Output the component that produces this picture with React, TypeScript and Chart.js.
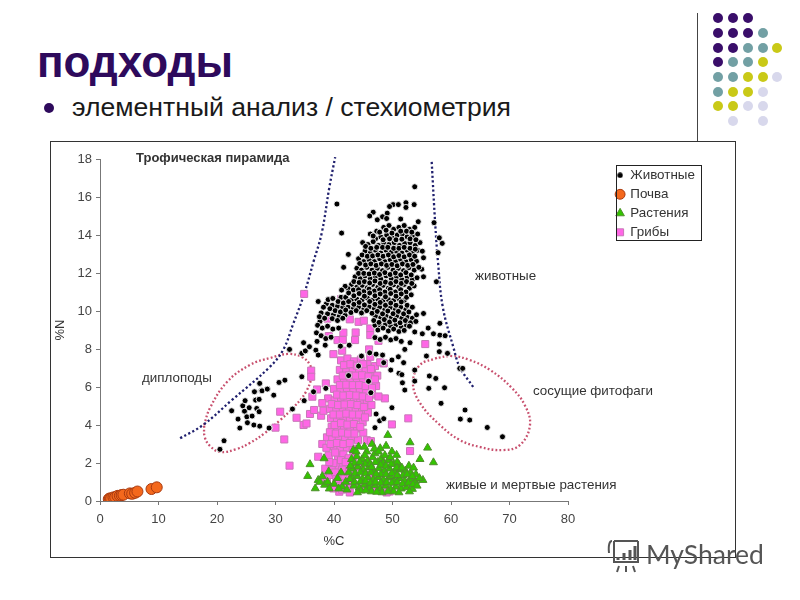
import React, { useEffect, useRef } from "react";
import { Chart, registerables } from "chart.js";

Chart.register(...registerables);

type P = [number, number];

const seriesNames = ["Животные", "Почва", "Растения", "Грибы"];
const xTicks = [0, 10, 20, 30, 40, 50, 60, 70, 80];
const yTicks = [0, 2, 4, 6, 8, 10, 12, 14, 16, 18];

const animalsTop: P[] = [
  [53.8,16.54],[40.5,15.63],[41.3,14.1],[50.1,15.6],[51,15.6],[52.3,15.7],[52.3,15.45],[53.7,15.6],[49.5,15.5],[49.1,15.15],
  [46.7,15.2],[46.1,15],[47.4,14.8],[48.3,14.96],[49,14.87],[51.4,14.84],[54.4,14.7],[57.1,14.65],[58,13.85],[58.5,13.56],
  [57.8,13.07],[57.5,11.54],[55.3,12.8],[55,12.2],[55.3,11.8],[42.45,12.98],[41.65,12.3],
];
const animals14: P[] = [
  [47.3,14.2],[48.5,14.4],[49.4,14.5],[50.2,14.3],[51.1,14.4],[52,14.5],[52.9,14.3],[53.8,14.4],[48,13.9],[49,14],
  [50,13.85],[50.8,14],[51.7,14.05],[52.5,13.9],[53.4,13.95],[54.3,14.05],[46.2,14.05],[47.1,13.8],
];
const animals13: P[] = [
  [44.9,13.6],[45.8,13.5],[46.7,13.65],[47.6,13.45],[48.5,13.6],[49.4,13.5],[50.3,13.6],[51.2,13.45],[52.1,13.55],[53,13.6],
  [53.9,13.45],[54.7,13.6],[45.3,13.15],[46.2,13.05],[47.1,13.2],[48,13.05],[48.9,13.2],[49.8,13.1],[50.7,13.15],[51.6,13.05],
  [52.5,13.2],[53.4,13.05],[54.3,13.2],[55.1,13.15],
];
const animals12: P[] = [
  [44.2,12.75],[45.1,12.6],[46,12.7],[46.9,12.6],[47.8,12.75],[48.7,12.6],[49.6,12.7],[50.5,12.6],[51.4,12.72],[52.3,12.6],
  [53.2,12.7],[54.1,12.62],[43.9,12.25],[44.7,12.15],[45.6,12.3],[46.5,12.15],[47.4,12.25],[48.3,12.12],[49.2,12.3],[50.1,12.15],
  [51,12.25],[51.9,12.12],[52.8,12.28],[53.7,12.15],[54.5,12.3],[43.6,11.8],[44.5,11.7],[45.3,11.85],[46.2,11.7],[47.1,11.8],
  [48,11.68],[48.9,11.85],[49.8,11.7],[50.7,11.8],[51.6,11.65],[52.5,11.8],[53.4,11.65],[54.2,11.75],[43,11.4],[43.9,11.25],
  [44.8,11.35],[45.7,11.22],[46.6,11.4],[47.5,11.25],[48.4,11.35],[49.3,11.2],[50.2,11.38],[51.1,11.25],[52,11.4],[52.9,11.2],
  [53.7,11.32],
];
const animalsFill: P[] = [
  [47.8,14.15],[48.9,14.25],[49.9,14.1],[51.4,14.2],[52.4,14.2],[53.3,14.15],[46.7,13.95],[48.4,13.75],[49.5,13.8],[50.6,13.75],
  [51.6,13.78],[53,13.8],[54,13.75],[45.4,13.4],[46.3,13.3],[47.3,13.35],[48.3,13.35],[49.2,13.35],[50.2,13.3],[51.1,13.3],
  [52,13.35],[53,13.3],[53.9,13.25],[44.8,12.95],[45.7,12.88],[46.6,12.9],[47.5,12.95],[48.4,12.88],[49.3,12.95],[50.2,12.85],
  [51.1,12.92],[52,12.85],[52.9,12.95],[53.8,12.88],[44.4,12.5],[45.4,12.42],[46.3,12.48],[47.2,12.4],[48.1,12.48],[49,12.4],
  [49.9,12.45],[50.8,12.38],[51.7,12.48],[52.6,12.4],[53.5,12.45],[44.2,11.98],[45.1,11.98],[46,11.95],[46.9,12],[47.8,11.92],
  [48.7,12.02],[49.6,11.92],[50.5,12],[51.4,11.9],[52.3,12.02],[53.2,11.9],[43.4,11.55],[44.3,11.5],[45.2,11.55],[46.1,11.48],
  [47,11.58],[47.9,11.45],[48.8,11.52],[49.7,11.45],[50.6,11.55],[51.5,11.45],[52.4,11.55],[53.3,11.45],[42.4,11.18],[43.3,11.1],
  [44.2,11.12],[45.1,11.02],[46,11.15],[46.9,11.05],[47.8,11.12],[48.7,11],[49.6,11.14],[50.5,11],[51.4,11.12],[52.3,11],
  [41.2,10.72],[42,10.72],[43,10.58],[43.9,10.62],[44.8,10.58],[45.7,10.68],[46.6,10.58],[47.5,10.62],[48.4,10.55],[49.3,10.6],
  [50.2,10.55],[51.1,10.65],[52,10.55],[38.7,10.38],[39.7,10.3],[40.6,10.25],[41.5,10.2],[42.4,10.2],[43.3,10.12],[44.2,10.2],
  [45.1,10.1],[46,10.22],[46.9,10.12],[47.8,10.2],[48.7,10.08],[49.6,10.18],[50.5,10.08],[51.4,10.2],[52.3,10.08],[37.8,9.9],
  [38.9,9.85],[39.9,9.8],[40.9,9.72],[41.9,9.78],[47.1,9.72],[48,9.65],[48.9,9.75],[49.8,9.65],[50.7,9.72],[51.6,9.62],
  [52.5,9.7],[53.4,9.62],[47,9.25],[47.9,9.22],[48.8,9.3],[49.7,9.2],[50.6,9.28],[51.5,9.15],[52.4,9.25],[37.6,9.45],
];
const animals10: P[] = [
  [41.9,11.3],[41.3,11.1],[42.5,10.95],[43.4,10.8],[44.3,10.92],[45.2,10.78],[46.1,10.95],[47,10.8],[47.9,10.9],[48.8,10.75],
  [49.7,10.92],[50.6,10.78],[51.5,10.9],[52.4,10.72],[53.2,10.85],[39,10.6],[39.8,10.66],[37.3,10.5],[40.7,10.5],[41.6,10.42],
  [42.5,10.5],[43.4,10.35],[44.3,10.45],[45.2,10.32],[46.1,10.5],[47,10.35],[47.9,10.45],[48.8,10.3],[49.7,10.42],[50.6,10.3],
  [51.5,10.48],[52.5,10.3],[38.2,10.2],[39.3,10.12],[40.2,10.02],[41.1,9.95],[42,10.05],[42.9,9.92],[43.8,10.02],[44.7,9.9],
  [45.6,10.02],[46.5,9.88],[47.4,9.98],[48.3,9.85],[49.2,10],[50.1,9.86],[51,9.98],[51.9,9.85],[52.8,9.95],[53.4,10.2],
  [54.1,9.8],[55.3,9.87],[37.5,9.7],[38.4,9.62],[39.7,9.6],[40.6,9.5],[41.5,9.62],[46.8,9.5],[47.7,9.4],[48.6,9.55],
  [49.5,9.42],[50.4,9.52],[51.3,9.38],[52.2,9.5],[53.1,9.38],[54,9.45],
];
const animals8: P[] = [
  [37.2,9.25],[38,9.1],[38.9,9.2],[39.8,9.05],[40.8,9.1],[47.5,9],[48.4,9.1],[49.3,8.95],[50.2,9.05],[51.1,8.92],
  [52,8.98],[52.9,9.2],[53.8,8.9],[58.1,9.35],[56.1,9.1],[57,8.8],[58.1,8.73],[59,8.7],[55.1,8.8],[37,8.85],
  [37.8,8.7],[38.6,8.55],[39.5,8.62],[47,8.6],[47.9,8.5],[48.8,8.62],[49.7,8.48],[50.6,8.55],[51.5,8.4],[37.1,8.4],
  [32.4,7.98],[34.8,8.33],[34.5,7.77],[35.1,7.9],[35.8,8.12],[36.9,7.94],[37.3,7.68],[38.5,8.2],[42.6,8.2],[41.1,8.15],
  [53,8.33],[52.1,7.98],[51.9,7.28],[51,7.59],[49.9,7.42],[48.5,7.28],[48.3,7.68],[47.2,7.73],[44.7,7.63],[46.1,7.8],
  [55.8,7.63],[58,8.26],[58,7.86],[59.4,7.77],[61.5,6.98],[62,6.98],[53.8,6.89],[49.7,6.89],[51.1,6.72],[51.6,6.65],
];
const animalsLow: P[] = [
  [34.5,6.54],[31.6,6.36],[30.6,6.24],[28.6,5.89],[27.6,5.8],[29.7,5.57],[34.9,5.28],[32.9,4.84],[29,3.86],[38.6,5.93],
  [36.5,5.75],[47,3.86],[47.2,4.58],[47.8,4.22],[48.5,4.33],[49.9,4.91],[52.1,5.84],[51.7,6.22],[53.8,6.31],[56.3,6.58],
  [57.4,6.45],[56.2,5.93],[58.9,5.96],[58.3,5.14],[62.4,4.79],[61.6,4.31],[63.2,4.26],[66.2,3.87],[68.8,3.38],[20.5,2.72],
  [21.2,3.17],[22.5,4.75],[23.6,4.31],[23.9,3.84],[24.7,4.73],[24.4,5.01],[24.8,5.28],[25.1,4.43],[25.5,4.91],[25.2,4.12],
  [26,4.47],[26.3,4],[27.3,3.94],[26.8,4.87],[27.2,4.7],[26.6,5.31],[27.2,5.35],[26.4,5.75],[27.3,6.19],[27.7,5.8],
  [28.6,5.89],[28.9,3.84],[42.5,6.6],[44.2,7.1],[45.9,6.3],[46.3,5.7],
];

const soil: P[] = [
  [1.5,0.1],[1.7,0.14],[1.9,0.12],[2.3,0.19],[2.6,0.2],[3,0.27],[3.4,0.28],[3.7,0.31],[4,0.33],[5.1,0.4],
  [5.5,0.38],[6,0.43],[6.4,0.5],[8.8,0.63],[9.7,0.72],
];

const plantsOuter: P[] = [
  [49.2,3.47],[53,3.08],[56,2.8],[54.7,2.2],[57,2.03],[35.9,1.93],[35.5,1.31],[38.3,2.24],[55.2,1.1],[53.4,0.63],
  [37.3,1.1],[36.8,0.66],[37.6,1.0],[38,1.3],[38.4,0.85],[39.1,1.55],[40,0.9],[40.6,1.2],[41.4,0.75],[42,1.0],
  [47.9,2.77],[48.9,2.9],[49.9,2.6],[50.7,2.42],[44.2,2.86],[43.3,2.68],[45.6,2.6],[46.5,3],[48.1,2.25],
];
const plantsDense: P[] = [
  [43,2.2],[43.9,2.35],[44.8,2.2],[45.7,2.1],[46.6,2.3],[47.5,2.05],[48.4,2],[49.3,2.15],[50.2,1.95],[51.1,1.9],
  [43.2,1.7],[44.1,1.8],[45,1.65],[45.9,1.75],[46.8,1.6],[47.7,1.72],[48.6,1.58],[49.5,1.7],[50.4,1.55],[51.3,1.65],
  [52.2,1.6],[53.1,1.5],[54,1.4],[43.1,1.2],[44,1.3],[44.9,1.15],[45.8,1.25],[46.7,1.12],[47.6,1.25],[48.5,1.1],
  [49.4,1.22],[50.3,1.08],[51.2,1.2],[52.1,1.05],[53,1.15],[53.9,1.05],[54.6,1.2],[43.4,0.8],[44.3,0.7],[45.2,0.85],
  [46.1,0.68],[47,0.82],[47.9,0.65],[48.8,0.8],[49.7,0.62],[50.6,0.75],[51.5,0.65],[52.4,0.72],[44.6,0.55],[46.4,0.5],
  [48.2,0.45],[50.2,0.5],[43.8,2.6],[47,2.5],[49.6,1.3],[51.8,1.35],[52.8,1.85],[48,1.4],[45.3,1.95],[50.8,2.05],
  [53.6,1.75],[42.5,1.5],[42.2,0.6],[39.2,0.65],
];
const plantsFill: P[] = [
  [43.5,2.0],[44.4,2.05],[45.3,2.4],[46.2,1.95],[47.1,2.05],[48,1.9],[48.9,1.85],[49.8,1.95],[50.7,1.75],[51.6,1.75],
  [52.5,1.4],[53.4,1.3],[43.6,1.45],[44.5,1.5],[45.4,1.45],[46.3,1.5],[47.2,1.42],[48.9,1.4],[49.9,1.45],[50.8,1.35],
  [43.5,1.0],[44.5,1.02],[45.4,1.05],[46.2,0.95],[47.1,1],[48,0.95],[49,0.98],[49.9,0.95],[50.8,0.98],[51.7,0.9],
  [52.7,0.95],[53.5,0.88],[44,0.45],[45.4,0.55],[47.3,0.48],[49.2,0.5],[51.1,0.45],[52.9,0.5],[54.2,0.8],[46.9,2.75],
  [45.2,2.85],[42.8,1.85],[42.7,1.15],[41.2,1.5],[40.8,0.65],[38.9,1.0],[46.4,1.78],[48.7,2.4],[47.6,2.6],[49.6,2.3],
];

const fungiOuter: P[] = [
  [34.9,10.9],[41.2,10.63],[44.9,10.05],[38.9,9.6],[42.7,9.56],[44.2,9.43],[45.1,9.49],[39.1,8.68],[41.6,8.86],[43.7,8.87],
  [46.2,9.08],[46.2,8.73],[40.6,8.47],[41.5,8.47],[43.6,8.47],[47.6,8.43],[55.6,8.26],[36.1,6.86],[36.1,6.54],[38.6,6.19],
  [37.1,5.87],[36.3,5.49],[30.8,4.7],[33.6,4.38],[35.9,4.58],[36.6,4.79],[37.8,4.49],[34.8,4],[35.3,4.08],[30,3.86],
  [31.5,3.24],[32.4,1.86],[48.7,5.4],[49.9,4.03],[52.7,4.35],[53,2.63],[37.3,2.33],[39.9,7.73],[41.4,7.91],[46,7.98],
  [46.2,7.59],[48.5,7.24],[42.7,0.45],[45,0.66],[46,0.75],[47.2,0.58],[49,0.45],[49.5,0.5],[46.2,1.36],[44.2,1.8],
  [43.3,2.33],[40.9,0.49],[39.9,0.66],[38.5,1.28],[39.3,1.37],
];
const fungiColumn: P[] = [
  [41.2,7.4],[42.3,7.5],[43.4,7.35],[44.6,7.45],[45.7,7.2],[47,7.1],[47.9,7.3],[41,6.9],[42.1,6.8],[43.2,6.95],
  [44.3,6.8],[45.4,6.9],[46.5,6.7],[47.4,6.6],[40.6,6.4],[41.7,6.3],[42.8,6.45],[43.9,6.3],[45,6.4],[46.1,6.2],
  [47.2,6.05],[40,5.9],[41.1,5.8],[42.2,5.95],[43.3,5.8],[44.4,5.9],[45.5,5.7],[46.5,5.6],[47.6,5.5],[39,5.4],
  [40.1,5.3],[41.2,5.45],[42.3,5.3],[43.4,5.42],[44.5,5.25],[45.6,5.2],[46.4,5.05],[38,5.15],[38.2,4.75],[39.3,4.85],
  [40.4,4.8],[41.5,4.9],[42.6,4.78],[43.7,4.85],[44.8,4.7],[45.8,4.65],[39.5,4.35],[40.5,4.2],[41.6,4.4],[42.7,4.25],
  [43.8,4.35],[44.9,4.15],[39.6,3.9],[40.6,3.75],[41.7,3.9],[42.8,3.78],[43.9,3.82],[45,3.6],[38.8,3.35],[39.7,3.25],
  [40.8,3.4],[41.9,3.28],[43,3.35],[44.1,3.2],[45.6,3.2],[46.3,3.15],[38,3],[38.7,2.8],[40,2.85],[41.1,2.7],
  [42.2,2.8],[43.2,2.75],[39.1,2.4],[40.7,2.3],[41.6,2.45],[42.5,2.25],[40.6,1.85],[41.5,1.95],[42.4,1.75],[38.5,1.7],
  [39.6,1.65],[40.9,1.4],[41.8,1.25],[42.7,1.35],[41,0.9],[41.9,0.95],[42.8,0.9],
];
const fungiFill: P[] = [
  [41.7,7.15],[42.8,7.2],[43.9,7.12],[45,7.2],[46.3,6.95],[41.5,6.6],[42.6,6.62],[43.7,6.6],[44.8,6.62],[45.9,6.55],
  [47,6.4],[41,6.1],[42.1,6.12],[43.2,6.1],[44.3,6.1],[45.4,6.05],[46.5,5.95],[40.5,5.6],[41.6,5.55],[42.7,5.58],
  [43.8,5.55],[44.9,5.5],[46,5.42],[39.6,5.1],[40.7,5.05],[41.8,5.08],[42.9,5.1],[44,5.05],[45.1,4.95],[39.9,4.55],
  [41,4.55],[42.1,4.6],[43.2,4.55],[44.3,4.55],[45.3,4.4],[40.1,4.0],[41.2,4.1],[42.3,4.02],[43.4,4.05],[44.5,3.9],
  [39.3,3.62],[40.3,3.55],[41.4,3.6],[42.4,3.55],[43.5,3.55],[39.4,3.0],[40.5,3.05],[41.6,3],[42.7,3.05],[40.2,2.55],
  [41.2,2.15],[42,2.05],[39.9,2],[40.2,1.5],[41.4,1.65],[40.4,1.15],[41.4,0.6],[42.3,0.65],[39.2,2.05],[38.8,1.0],
];

const curveLeftC = [13.7, 17.6, 22.5, 29, 31.3, 33, 34.9, 36.5, 37.9, 39.2, 40.2];
const curveLeftN = [3.3, 4.0, 5.3, 7.05, 7.95, 9.3, 10.9, 12.6, 14.1, 16.5, 18.1];
const curveRightC = [56.7, 57.3, 57.8, 58.6, 60.4, 61.5, 63.8];
const curveRightN = [17.85, 14.6, 12.5, 10.2, 8.1, 7.05, 6.0];
const ovalLeftC = [17.8, 18.8, 21.7, 25.6, 29.1, 32.1, 34.5, 35.9, 36.2, 35.2, 33, 30.8, 28.2, 25.6, 23.4, 20.5, 18.8, 17.9, 17.8];
const ovalLeftN = [4.0, 4.9, 6.26, 7.16, 7.53, 7.74, 7.58, 7.16, 6.63, 5.74, 4.9, 4.26, 3.58, 3.05, 2.74, 2.58, 2.9, 3.37, 4.0];
const ovalRightC = [57.6, 54.7, 53.5, 54.7, 58.1, 61.5, 65, 68.9, 71.8, 73.5, 72.6, 70.4, 66.7, 63.2, 60.2, 57.6];
const ovalRightN = [7.53, 7.16, 6.21, 5.16, 4.0, 3.21, 2.84, 2.68, 2.95, 4.0, 5.05, 5.95, 6.89, 7.42, 7.63, 7.53];

const slideDotRows: [number, string[]][] = [
  [18, ["p", "p", "p"]],
  [33, ["p", "p", "p", "t"]],
  [48, ["p", "p", "t", "t", "y"]],
  [62, ["p", "t", "t", "y"]],
  [77, ["t", "t", "y", "y", "l"]],
  [92, ["t", "y", "y", "l"]],
  [106, ["y", "y", "l", "l"]],
];
const slideDotColors: Record<string, string> = { p: "#3a0e6a", t: "#72a0a4", y: "#c9c917", l: "#d8d8ec" };
const slideDotColumns = [718, 733, 748, 763, 777];

const toXY = (pairs: P[]) => pairs.map(([x, y]) => ({ x, y }));
const zipXY = (xs: number[], ys: number[]) => xs.map((x, i) => ({ x, y: ys[i] }));

const FONT = "'Liberation Sans', Arial, sans-serif";

const legendPlugin = {
  id: "movedLegend",
  beforeDraw(chart: any) {
    const lg = chart.legend;
    lg.left = 560; lg.right = 655; lg.top = 21; lg.bottom = 110;
  },
  afterDraw(chart: any) {
    const c = chart.ctx;
    c.save();
    c.strokeStyle = "#222";
    c.lineWidth = 1;
    c.strokeRect(565.5, 23.5, 85, 75);
    c.restore();
  },
};

const makeSmallDot = () => {
  const cv = document.createElement("canvas");
  cv.width = 6; cv.height = 6;
  const c = cv.getContext("2d")!;
  c.fillStyle = "#000";
  c.beginPath(); c.arc(3, 3, 2.7, 0, Math.PI * 2); c.fill();
  return cv;
};

const labelStyle = (left: number, top: number, extra: any = {}): React.CSSProperties => ({
  position: "absolute", left, top, fontFamily: FONT, fontSize: 13.4, lineHeight: "14px",
  color: "#333", whiteSpace: "nowrap", ...extra,
});

export default function App() {
  const ref = useRef<HTMLCanvasElement>(null);
  useEffect(() => {
    const dashed = (data: any[], color: string, dash: number[]) => ({
      data, showLine: true, pointRadius: 0, borderColor: color, backgroundColor: color,
      borderWidth: 2.3, borderDash: dash, tension: 0.4, clip: false as any,
    });
    const smallDot = makeSmallDot();
    const chart = new Chart(ref.current!, {
      type: "scatter",
      data: {
        datasets: [
          {
            label: seriesNames[0],
            data: toXY([...animalsTop, ...animals14, ...animals13, ...animals12, ...animalsFill, ...animals10, ...animals8, ...animalsLow]),
            pointStyle: "circle", pointRadius: 3, pointBackgroundColor: "#000", backgroundColor: "#000",
            pointBorderColor: "#f4f4f4", borderColor: "#000", pointBorderWidth: 0.9,
          },
          {
            label: seriesNames[1], data: toXY(soil), pointStyle: "circle", pointRadius: 5.5,
            pointBackgroundColor: "#f4681c", backgroundColor: "#f4681c", pointBorderColor: "#a83a10", borderColor: "#a83a10", pointBorderWidth: 1,
          },
          {
            label: seriesNames[2], data: toXY([...plantsOuter, ...plantsDense, ...plantsFill]), pointStyle: "triangle", pointRadius: 4.6,
            pointBackgroundColor: "#33c400", backgroundColor: "#33c400", pointBorderColor: "#4f8f2c", borderColor: "#4f8f2c", pointBorderWidth: 1,
          },
          {
            label: seriesNames[3], data: toXY([...fungiOuter, ...fungiColumn, ...fungiFill]), pointStyle: "rect", pointRadius: 5,
            pointBackgroundColor: "#ff66e6", backgroundColor: "#ff66e6", pointBorderColor: "#c878b8", borderColor: "#c878b8", pointBorderWidth: 1,
          },
          dashed(zipXY(curveLeftC, curveLeftN), "#20206e", [2.2, 2.4]),
          dashed(zipXY(curveRightC, curveRightN), "#20206e", [2.2, 2.4]),
          dashed(zipXY(ovalLeftC, ovalLeftN), "#c8506e", [1.8, 2.2]),
          dashed(zipXY(ovalRightC, ovalRightN), "#c8506e", [1.8, 2.2]),
        ] as any,
      },
      options: {
        animation: false,
        responsive: false,
        layout: { padding: { left: 0, right: 167, top: 17, bottom: 8 } },
        plugins: {
          title: { display: false },
          tooltip: { enabled: false },
          legend: {
            display: true,
            position: "chartArea" as any,
            align: "start",
            labels: {
              usePointStyle: true, boxWidth: 7, boxHeight: 7, padding: 5.6, color: "#333",
              font: { family: FONT, size: 13.4 },
              generateLabels: (c: any) => {
                const items = (Chart.defaults.plugins.legend.labels as any).generateLabels(c).filter((it: any) => it.datasetIndex < 4);
                items[0].pointStyle = smallDot;
                return items;
              },
            },
          },
        },
        scales: {
          x: {
            type: "linear", min: 0, max: 80,
            afterBuildTicks: (s: any) => { s.ticks = xTicks.map((value) => ({ value })); },
            afterFit: (s: any) => { s.height = 48; },
            grid: { drawOnChartArea: false, color: "#777", tickLength: 4 },
            border: { color: "#777" },
            ticks: { color: "#444", font: { family: FONT, size: 13 }, padding: 7 },
            title: { display: true, text: "%C", color: "#333", font: { family: FONT, size: 13 }, padding: { top: 1, bottom: 0 } },
          },
          y: {
            type: "linear", min: 0, max: 18,
            afterBuildTicks: (s: any) => { s.ticks = yTicks.map((value) => ({ value })); },
            afterFit: (s: any) => { s.width = 49; },
            grid: { drawOnChartArea: false, color: "#777", tickLength: 4 },
            border: { color: "#777" },
            ticks: { color: "#444", font: { family: FONT, size: 13 }, padding: 4 },
            title: { display: true, text: "%N", color: "#333", font: { family: FONT, size: 13 }, padding: { top: 2, bottom: 0 } },
          },
        },
      },
      plugins: [legendPlugin as any],
    });
    return () => chart.destroy();
  }, []);

  return (
    <div style={{ position: "fixed", left: 0, top: 0, width: 800, height: 600, background: "#fff", overflow: "hidden" }}>
      <div style={{ position: "absolute", left: 37, top: 37, fontFamily: FONT, fontWeight: 700, fontSize: 44, lineHeight: "50px", color: "#2e0a5c" }}>подходы</div>
      <div style={{ position: "absolute", left: 44, top: 103, width: 10, height: 10, borderRadius: 5, background: "#2e0a5c" }} />
      <div style={{ position: "absolute", left: 72, top: 92, fontFamily: FONT, fontSize: 26.6, lineHeight: "30px", color: "#1a1a1a", whiteSpace: "nowrap" }}>элементный анализ / стехиометрия</div>
      <div style={{ position: "absolute", left: 697, top: 13, width: 1, height: 128, background: "#444" }} />
      <svg width={800} height={140} style={{ position: "absolute", left: 0, top: 0 }}>
        {slideDotRows.map(([y, row]) => row.map((c, i) => (
          <circle key={y + "-" + i} cx={slideDotColumns[i]} cy={y} r={5} fill={slideDotColors[c]} />
        )))}
        <circle cx={733} cy={121} r={5} fill={slideDotColors.l} />
        <circle cx={763} cy={121} r={5} fill={slideDotColors.l} />
      </svg>
      <div style={{ position: "absolute", left: 50, top: 141, width: 684, height: 415, border: "1px solid #333" }}>
        <canvas ref={ref} width={684} height={415} style={{ display: "block", width: 684, height: 415 }} />
      </div>
      <div style={labelStyle(136, 151, { fontWeight: 700, fontSize: 13 })}>Трофическая пирамида</div>
      <div style={labelStyle(475, 269)}>животные</div>
      <div style={labelStyle(142, 371)}>диплоподы</div>
      <div style={labelStyle(533, 384)}>сосущие фитофаги</div>
      <div style={labelStyle(446, 478)}>живые и мертвые растения</div>
      <svg width={40} height={40} viewBox="0 0 40 40" style={{ position: "absolute", left: 606, top: 536 }} fill="none" stroke="#555" strokeWidth={2}>
        <path d="M8 5h24M6 5c-2 0-4 3-3 12M8 5v14M8 8v18h24V5" />
        <path d="M12 24v-3M18 24v-7M24 24v-10M29 24v-14" strokeWidth={3} />
        <path d="M13 30l-2 6M20 30v6M27 30l2 6" />
      </svg>
      <div style={{ position: "absolute", left: 646, top: 538, fontFamily: "Lato, 'Open Sans', sans-serif", fontSize: 26.5, lineHeight: "32px", color: "#555" }}>MyShared</div>
    </div>
  );
}
